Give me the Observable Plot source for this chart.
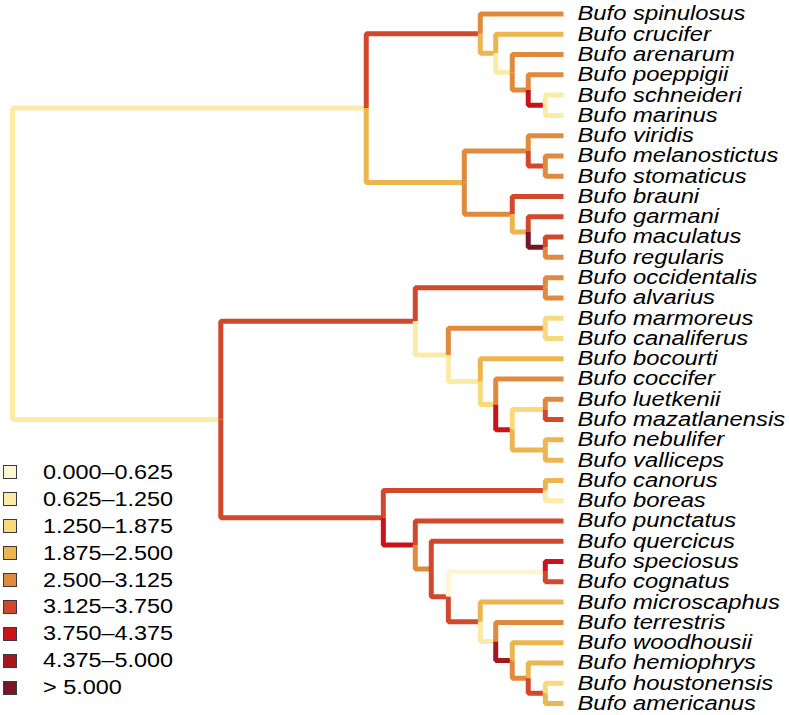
<!DOCTYPE html>
<html><head><meta charset="utf-8">
<script src="https://cdn.jsdelivr.net/npm/d3@7"></script>
<script src="https://cdn.jsdelivr.net/npm/@observablehq/plot@0.6"></script>
<style>
body{margin:0;background:#fff;}
#wrap{position:relative;width:789px;height:715px;overflow:hidden;}
#legend{position:absolute;left:3px;top:459px;font-family:"Liberation Sans",Arial,Helvetica,sans-serif;font-size:20px;color:#000;}
.row{display:flex;align-items:center;height:26.9px;}
.sw{width:14px;height:14px;box-sizing:border-box;border:1px solid #3a3a3a;flex:none;}
.lab{margin-left:26px;white-space:nowrap;transform:scaleX(1.17);transform-origin:left center;}
</style></head>
<body><div id="wrap"></div>
<script>
// Tip labels, top to bottom
const tipNames = ["Bufo spinulosus","Bufo crucifer","Bufo arenarum","Bufo poeppigii","Bufo schneideri","Bufo marinus","Bufo viridis","Bufo melanostictus","Bufo stomaticus","Bufo brauni","Bufo garmani","Bufo maculatus","Bufo regularis","Bufo occidentalis","Bufo alvarius","Bufo marmoreus","Bufo canaliferus","Bufo bocourti","Bufo coccifer","Bufo luetkenii","Bufo mazatlanensis","Bufo nebulifer","Bufo valliceps","Bufo canorus","Bufo boreas","Bufo punctatus","Bufo quercicus","Bufo speciosus","Bufo cognatus","Bufo microscaphus","Bufo terrestris","Bufo woodhousii","Bufo hemiophrys","Bufo houstonensis","Bufo americanus"];

// Internal nodes and their ages (relative, root = 1, tips = 0)
const nodeIds  = ["root","A","A1","C1","C2","C3","C4","A2","V1","V3","V2","V4","V5","B","B1","O1","L1","M1","L2","L3","L4","L5","L6","B2","K1","K2","K3","K4","K5","K6","K7","K8","K9","K10"];
const nodeAges = [1.0,0.358,0.151,0.123,0.093,0.064,0.033,0.180,0.064,0.033,0.093,0.064,0.033,0.622,0.269,0.033,0.209,0.033,0.151,0.123,0.093,0.033,0.033,0.327,0.033,0.269,0.240,0.209,0.033,0.151,0.123,0.093,0.064,0.033];

// Edges: [parent, child, rate]
const edgeList = [
["root","A",0.9],["A","A1",3.4],["A1","Bufo spinulosus",2.8],["A1","C1",2.2],["C1","Bufo crucifer",2.2],["C1","C2",0.9],
["C2","Bufo arenarum",2.8],["C2","C3",2.8],["C3","Bufo poeppigii",2.8],["C3","C4",4.0],["C4","Bufo schneideri",0.9],["C4","Bufo marinus",0.9],
["A","A2",2.2],["A2","V1",2.8],["V1","Bufo viridis",2.8],["V1","V3",3.4],["V3","Bufo melanostictus",2.8],["V3","Bufo stomaticus",2.8],
["A2","V2",2.8],["V2","Bufo brauni",3.4],["V2","V4",2.2],["V4","Bufo garmani",3.4],["V4","V5",5.3],["V5","Bufo maculatus",3.4],["V5","Bufo regularis",2.8],
["root","B",0.9],["B","B1",3.4],["B1","O1",3.4],["O1","Bufo occidentalis",2.8],["O1","Bufo alvarius",2.8],
["B1","L1",0.9],["L1","M1",2.8],["M1","Bufo marmoreus",1.5],["M1","Bufo canaliferus",1.5],["L1","L2",0.9],["L2","Bufo bocourti",2.2],
["L2","L3",1.5],["L3","Bufo coccifer",2.8],["L3","L4",4.0],["L4","L5",1.5],["L5","Bufo luetkenii",2.8],["L5","Bufo mazatlanensis",3.4],
["L4","L6",2.2],["L6","Bufo nebulifer",2.2],["L6","Bufo valliceps",2.2],
["B","B2",3.4],["B2","K1",3.4],["K1","Bufo canorus",2.2],["K1","Bufo boreas",0.9],["B2","K2",4.0],["K2","Bufo punctatus",3.4],
["K2","K3",2.8],["K3","Bufo quercicus",3.4],["K3","K4",3.4],["K4","K5",0.3],["K5","Bufo speciosus",4.0],["K5","Bufo cognatus",3.4],
["K4","K6",3.4],["K6","Bufo microscaphus",2.2],["K6","K7",0.9],["K7","Bufo terrestris",2.8],["K7","K8",4.7],["K8","Bufo woodhousii",2.2],
["K8","K9",2.8],["K9","Bufo hemiophrys",2.2],["K9","K10",3.4],["K10","Bufo houstonensis",1.5],["K10","Bufo americanus",2.2]
];

// Rate classes
const thresholds = [0.625,1.25,1.875,2.5,3.125,3.75,4.375,5.0];
const classColors = ["#FEF6D3","#FBEBA6","#F8DA7C","#EBB550","#DF8A3D","#D1482C","#C8131B","#A3181F","#771629"];
const classLabels = ["0.000\u20130.625","0.625\u20131.250","1.250\u20131.875","1.875\u20132.500","2.500\u20133.125","3.125\u20133.750","3.750\u20134.375","4.375\u20135.000","> 5.000"];

// ---- build tree geometry (ape-style: tip index, internal node = mean of children) ----
const age = new Map(nodeIds.map((d, i) => [d, nodeAges[i]]));
tipNames.forEach(t => age.set(t, 0));
const yPos = new Map(tipNames.map((t, i) => [t, i]));
const kids = d3.group(edgeList, e => e[0]);
function getY(n) {
  if (yPos.has(n)) return yPos.get(n);
  const ch = kids.get(n).map(e => getY(e[1]));
  const v = d3.mean(ch);
  yPos.set(n, v);
  return v;
}
getY("root");

const linePts = [];
edgeList.forEach((e, k) => {
  const [p, c, r] = e;
  linePts.push({edge: k, rate: r, x: age.get(p), y: yPos.get(p)});
  linePts.push({edge: k, rate: r, x: age.get(p), y: yPos.get(c)});
  linePts.push({edge: k, rate: r, x: age.get(c), y: yPos.get(c)});
});
const tips = tipNames.map((t, i) => ({name: t, i, age: 0}));

const svg = Plot.plot({
  width: 789, height: 715, margin: 0,
  x: {domain: [1, 0], range: [12, 563], axis: null},
  y: {domain: [0, tipNames.length - 1], range: [13.5, 703], axis: null},
  color: {type: "threshold", domain: thresholds, range: classColors},
  style: {background: "white", fontFamily: '"Liberation Sans", Arial, Helvetica, sans-serif'},
  marks: [
    Plot.line(linePts, {x: "x", y: "y", z: "edge", stroke: "rate", strokeWidth: 5, strokeLinejoin: "miter", strokeLinecap: "butt"}),
    Plot.text(tips, {x: "age", y: "i", text: "name", textAnchor: "start", dx: 14, fontSize: 20, fontStyle: "italic", fill: "black"})
  ]
});
// stretch labels horizontally to match the reference's wide lettering
svg.querySelectorAll("text").forEach(t => {
  const tr = t.getAttribute("transform");
  if (tr) t.setAttribute("transform", tr + " scale(1.19,1)");
  else {
    const x = +t.getAttribute("x") || 0;
    t.setAttribute("transform", `translate(${x},0) scale(1.19,1) translate(${-x},0)`);
  }
});
const wrap = document.getElementById("wrap");
wrap.appendChild(svg);

// legend
const leg = d3.select(wrap).append("div").attr("id", "legend");
const rows = leg.selectAll(".row").data(classLabels).join("div").attr("class", "row");
rows.append("div").attr("class", "sw").style("background", (d, i) => classColors[i]);
rows.append("div").attr("class", "lab").text(d => d);
</script>
</body></html>
